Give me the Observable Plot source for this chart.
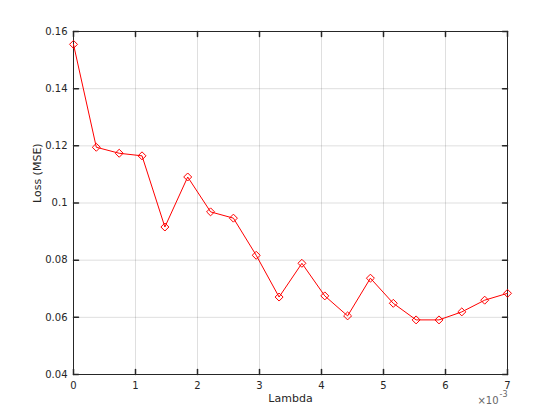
<!DOCTYPE html>
<html>
<head>
<meta charset="utf-8">
<script src="https://cdn.jsdelivr.net/npm/d3@7"></script>
<script src="https://cdn.jsdelivr.net/npm/@observablehq/plot@0.6"></script>
<style>
  html, body { margin: 0; padding: 0; background: #fff; }
  #chart { width: 560px; height: 420px; }
</style>
</head>
<body>
<div id="chart"></div>
<script>
// Lambda values (in units of 1e-3)
const lambdaMilli = [0, 0.368, 0.737, 1.105, 1.474, 1.842, 2.211, 2.579, 2.947, 3.316,
                     3.684, 4.053, 4.421, 4.789, 5.158, 5.526, 5.895, 6.263, 6.632, 7.0];
// Loss (MSE)
const loss = [0.1555, 0.1195, 0.1174, 0.1165, 0.0916, 0.1091, 0.0969, 0.0947, 0.0817, 0.0671,
              0.0789, 0.0675, 0.0605, 0.0737, 0.0649, 0.0591, 0.0591, 0.0619, 0.0660, 0.0684];

const xTicks = [0, 1, 2, 3, 4, 5, 6, 7];
const xTickLabels = ["0", "1", "2", "3", "4", "5", "6", "7"];
const yTicks = [0.04, 0.06, 0.08, 0.10, 0.12, 0.14, 0.16];
const yTickLabels = ["0.04", "0.06", "0.08", "0.1", "0.12", "0.14", "0.16"];

const data = lambdaMilli.map((x, i) => ({x, y: loss[i]}));
const ink = "#262626";
const tickShape = {draw(context, l) { context.moveTo(0, 0); context.lineTo(0, -l); }};

const chart = Plot.plot({
  width: 560,
  height: 420,
  marginLeft: 73,
  marginRight: 53,
  marginTop: 31,
  marginBottom: 46,
  style: {fontFamily: "DejaVu Sans", fontSize: "10px", color: ink, background: "#fff"},
  x: {domain: [0, 7]},
  y: {domain: [0.04, 0.16]},
  marks: [
    Plot.gridX(xTicks, {stroke: ink, strokeOpacity: 0.15}),
    Plot.gridY(yTicks, {stroke: ink, strokeOpacity: 0.15}),
    // tick labels and axis titles
    Plot.axisX(xTicks, {anchor: "bottom", tickSize: 0, tickPadding: 7,
      tickFormat: (d, i) => xTickLabels[i], label: null, fill: ink}),
    Plot.axisY(yTicks, {anchor: "left", tickSize: 0, tickPadding: 6,
      tickFormat: (d, i) => yTickLabels[i], label: null, fill: ink}),
    Plot.text(["Lambda"], {frameAnchor: "bottom", dy: 27, fontSize: 11, fill: ink}),
    Plot.text(["Loss (MSE)"], {frameAnchor: "left", dx: -36, rotate: -90, fontSize: 11, fill: ink}),
    // inward ticks on all four sides
    Plot.vector(xTicks, {x: d => d, frameAnchor: "bottom", length: 5, rotate: 0, anchor: "start", shape: tickShape, stroke: ink}),
    Plot.vector(xTicks, {x: d => d, frameAnchor: "top", length: 5, rotate: 180, anchor: "start", shape: tickShape, stroke: ink}),
    Plot.vector(yTicks, {y: d => d, frameAnchor: "left", length: 5, rotate: 90, anchor: "start", shape: tickShape, stroke: ink}),
    Plot.vector(yTicks, {y: d => d, frameAnchor: "right", length: 5, rotate: -90, anchor: "start", shape: tickShape, stroke: ink}),
    Plot.frame({stroke: ink}),
    Plot.line(data, {x: "x", y: "y", stroke: "red", strokeWidth: 1}),
    Plot.dot(data, {x: "x", y: "y", symbol: "diamond2", r: 3.6, stroke: "red", fill: "none", strokeWidth: 1}),
    // exponent
    Plot.text(["×10"], {frameAnchor: "bottom-right", dx: -9, dy: 29, textAnchor: "end", fill: "#666", fontSize: 10}),
    Plot.text(["-3"], {frameAnchor: "bottom-right", dx: 0, dy: 22, textAnchor: "end", fill: "#666", fontSize: 8})
  ]
});
document.getElementById("chart").append(chart);
</script>
</body>
</html>
